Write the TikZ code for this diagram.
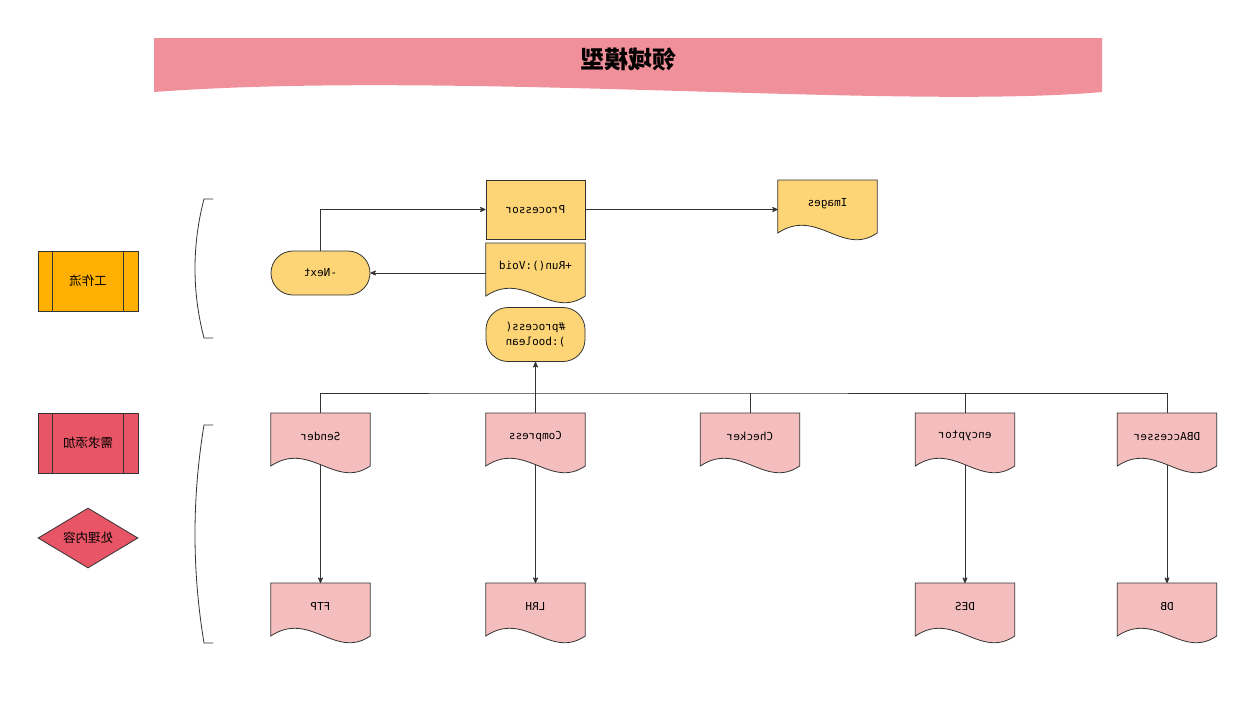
\documentclass[tikz,border=0pt]{standalone}
\usepackage{fontspec}
\usepackage{graphicx}
\usetikzlibrary{arrows.meta, calc, shapes.geometric}
\newfontfamily\cjk{Noto Sans CJK SC}
\newfontfamily\codefont{DejaVu Sans Mono}
\definecolor{bannerpink}{HTML}{F0909A}
\definecolor{notey}{HTML}{FDD576}
\definecolor{notep}{HTML}{F5BEBE}
\definecolor{flowor}{HTML}{FFB000}
\definecolor{needred}{HTML}{E85566}
\definecolor{edge}{HTML}{333333}
\newcommand{\mir}[1]{\reflectbox{#1}}
\pgfdeclarelayer{lines}
\pgfdeclarelayer{shapes}
\pgfsetlayers{lines,shapes,main}
% wavy bottom for the document boxes
\newcommand{\waveshape}[2]{%
  \begin{pgfonlayer}{shapes}
  \draw[draw=edge, line width=0.8pt, fill=#2] (#1.north west) -- (#1.north east) -- ++(0,-53)
    .. controls +(-35,-24) and +(39,26) .. ($(#1.north west)+(0,-53)$) -- cycle;
  \end{pgfonlayer}}

\begin{document}
\begin{tikzpicture}[x=1pt,y=1pt,>={Stealth[round,length=7pt,width=6pt]},
        wire/.style={draw=edge, line width=0.8pt},
        code/.style={font=\codefont\fontsize{11}{15}\selectfont},
        docbox/.style={code, anchor=north, minimum width=99pt, minimum height=46pt, inner sep=0pt},
        rect/.style={code, draw=edge, line width=0.8pt, fill=notey, minimum width=99pt, minimum height=59pt},
        pill/.style={code, draw=edge, line width=0.8pt, fill=notey, rounded corners=22pt, minimum width=99pt, align=center, inner sep=0pt},
        legend/.style={font=\cjk\fontsize{12.5}{14}\selectfont, draw=edge, line width=0.8pt, minimum width=100pt, minimum height=60pt, inner sep=0pt}]
    \useasboundingbox (0,0) rectangle (1257,-723);

    % banner
    \fill[bannerpink] (154,-38) -- (1102,-38) -- (1102,-92) .. controls (900,-110) and (450,-70) .. (154,-92) -- cycle;
    \node[font=\cjk\bfseries\fontsize{24}{28}\selectfont] (title) at (628,-59) {\mir{领域模型}};

    % legend
    \node[legend, fill=flowor] (workflow) at (88,-281) {\mir{工作流}};
    \node[legend, fill=needred] (demand) at (88,-443) {\mir{需求添加}};
    \node[legend, diamond, fill=needred, shape aspect=1.67] (handle) at (88,-538) {\mir{处理内容}};
    \foreach \n in {workflow, demand} {
        \draw[wire] ($(\n.north west)+(15,0)$) -- ($(\n.south west)+(15,0)$);
        \draw[wire] ($(\n.north east)+(-15,0)$) -- ($(\n.south east)+(-15,0)$);
    }

    % brackets
    \draw[wire] (213,-199) -- (204,-199) .. controls (192,-245) and (192,-292) .. (204,-338) -- (213,-338);
    \draw[wire] (213,-425) -- (204,-425) .. controls (192,-498) and (192,-570) .. (204,-643) -- (213,-643);

    % workflow part
    \node[rect] (proc) at (535.5,-209.5) {\mir{Processor}};
    \node[docbox] (run) at (535.5,-243) {\mir{+Run():Void}};
    \node[pill, minimum height=54pt] (process) at (535.5,-334.5) {\mir{\#process(}\\\mir{):boolean}};
    \node[pill, minimum height=44pt] (next) at (320.5,-273) {\mir{-Next}};
    \node[docbox] (images) at (827.5,-180) {\mir{Images}};

    % added parts
    \node[docbox] (sender) at (320.5,-413) {\mir{Sender}};
    \node[docbox] (compress) at (535.5,-413) {\mir{Compress}};
    \node[docbox] (checker) at (750,-413) {\mir{Checker}};
    \node[docbox] (encyptor) at (965,-413) {\mir{encyptor}};
    \node[docbox] (dbacc) at (1167,-413) {\mir{DBAccesser}};
    \node[docbox] (ftp) at (320.5,-583) {\mir{FTP}};
    \node[docbox] (lrh) at (535.5,-583) {\mir{LRH}};
    \node[docbox] (des) at (965,-583) {\mir{DES}};
    \node[docbox] (db) at (1167,-583) {\mir{DB}};
    \coordinate (bus) at (535.5,-393);

    \foreach \n/\c in {run/notey, images/notey, sender/notep, compress/notep, checker/notep,
        encyptor/notep, dbacc/notep, ftp/notep, lrh/notep, des/notep, db/notep}
        \waveshape{\n}{\c};

    \begin{pgfonlayer}{lines}
    \draw[wire,->] (next.north) |- (proc.west);
    \draw[wire,->] (proc.east) -- (proc.east -| images.west);
    \draw[wire,->] (next.east -| run.west) -- (next.east);
    \draw[wire,->] (compress.north) -- (process.south);
    \draw[wire] (sender.north) |- (bus) -| (dbacc.north);
    \foreach \n in {checker, encyptor}
        \draw[wire] (\n.north) -- (\n.north |- bus);
    \foreach \a/\b in {sender/ftp, compress/lrh, encyptor/des, dbacc/db}
        \draw[wire,->] (\a.center) -- (\b.north);
    \end{pgfonlayer}
\end{tikzpicture}
\end{document}
